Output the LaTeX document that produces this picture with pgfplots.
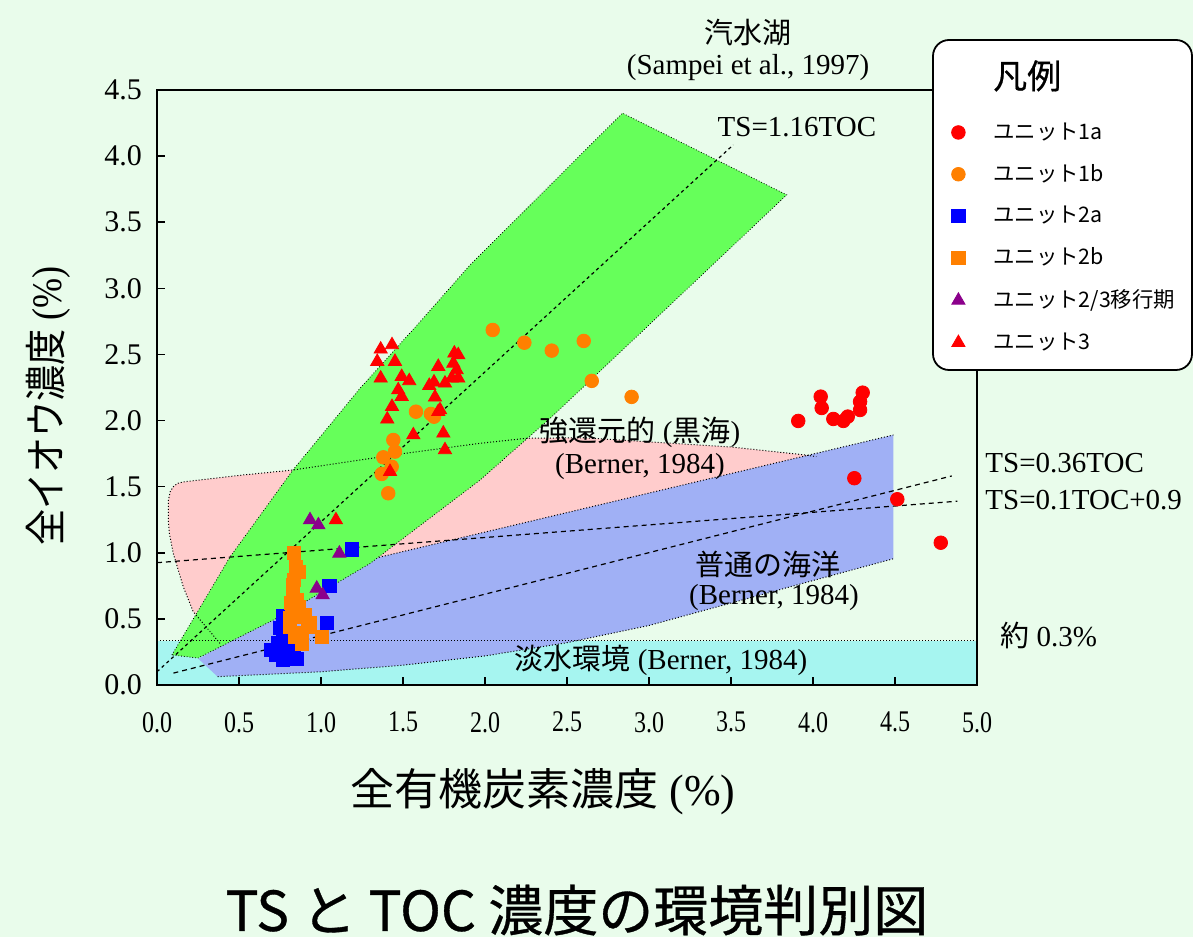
\documentclass[border=0pt]{standalone}
\usepackage{fontspec}
\setmainfont{Liberation Serif}
\newfontfamily\jp{Noto Sans CJK JP}
\newfontfamily\jpb[FakeBold=0.6]{Noto Sans CJK JP}
\usepackage{pgfplots}
\pgfplotsset{compat=1.18}
\definecolor{bgc}{RGB}{233,252,235}
\definecolor{grn}{RGB}{102,255,90}
\definecolor{pnk}{RGB}{255,204,204}
\definecolor{blu}{RGB}{160,176,245}
\definecolor{cyn}{RGB}{166,245,240}
\definecolor{orng}{RGB}{255,128,0}
\definecolor{purp}{RGB}{139,0,139}
\begin{document}
\begin{tikzpicture}[x=0.5pt,y=0.5pt]
\path[use as bounding box, fill=bgc] (0,0) rectangle (1193,937);
\begin{axis}[
 at={(78.5pt,126pt)}, anchor=origin,
 scale only axis, width=410pt, height=297.5pt,
 xmin=0,xmax=5,ymin=0,ymax=4.5,
 xtick={0,0.5,1,1.5,2,2.5,3,3.5,4,4.5,5},
 ytick={0,0.5,1,1.5,2,2.5,3,3.5,4,4.5},
 xtick pos=bottom, ytick pos=left,
 tick align=inside, major tick length=4pt,
 axis on top, clip=false,
 axis line style={line width=0.9pt},
 every tick/.style={line width=0.8pt, black},
 /pgf/number format/.cd, fixed, fixed zerofill, precision=1, assume math mode=true, /pgfplots/.cd,
 tick label style={font=\fontsize{15}{15}\selectfont},
 xticklabel style={yshift=-10pt, xscale=0.8},
 yticklabel style={xshift=-4pt},
]
% freshwater band
\addplot[fill=cyn, draw=none] coordinates {(0,0)(5,0)(5,0.333)(0,0.333)} -- cycle;
% euxinic (pink)
\addplot[fill=pnk, draw=none] coordinates {(0.384,0.315)(0.221,0.554)(0.160,0.744)(0.099,0.996)(0.075,1.15)(0.069,1.248)(0.070,1.40)(0.080,1.46)(0.098,1.498)(0.125,1.525)(0.16,1.536)(0.5,1.585)(0.829,1.626)(1.5,1.75)(1.97,1.828)(2.254,1.866)(2.6,1.87)(2.986,1.84)(3.5,1.80)(3.951,1.74)(4.02,1.727)(4.02,1.6)(2.5,1.1)(1.3,0.7)} -- cycle;
% normal marine (blue)
\addplot[fill=blu, draw=none] coordinates {(0.37,0.063)(0.253,0.197)(1.30,0.95)(4.49,1.891)(4.49,0.955)(4.0,0.79)(3.5,0.62)(3.0,0.45)(2.5,0.32)(2.0,0.22)(1.5,0.15)(1.0,0.1)} -- cycle;
\addplot[black, densely dotted, line width=0.5pt] coordinates {(1.30,0.95)(4.49,1.891)};
\addplot[black, densely dotted, line width=0.5pt] coordinates {(0.37,0.063)(1.0,0.1)(1.5,0.15)(2.0,0.22)(2.5,0.32)(3.0,0.45)(3.5,0.62)(4.0,0.79)(4.49,0.955)};
% brackish (green)
\addplot[fill=grn, draw=black, densely dotted, line width=0.4pt] coordinates {(0.091,0.227)(0.445,0.968)(0.829,1.626)(1.238,2.244)(1.614,2.761)(1.909,3.177)(2.838,4.325)(3.840,3.707)(2.40,2.02)(1.97,1.55)(1.30,0.92)(0.75,0.517)(0.25,0.204)} -- cycle;
% pink outline
\addplot[black, densely dotted, line width=0.5pt] coordinates {(0.384,0.315)(0.221,0.554)(0.160,0.744)(0.099,0.996)(0.075,1.15)(0.069,1.248)(0.070,1.40)(0.080,1.46)(0.098,1.498)(0.125,1.525)(0.16,1.536)(0.5,1.585)(0.829,1.626)(1.5,1.75)(1.97,1.828)(2.254,1.866)(2.6,1.87)(2.986,1.84)(3.5,1.80)(3.951,1.74)(4.02,1.727)};
\addplot[black, densely dotted, line width=0.5pt] coordinates {(0,0.333)(5,0.333)};
% TS lines
\addplot[black, dash pattern=on 1.6pt off 1.6pt, line width=0.6pt] coordinates {(0,0.10)(3.514,4.085)};
\addplot[black, dash pattern=on 2.5pt off 2pt, line width=0.6pt] coordinates {(0.1,0.09)(4.846,1.581)};
\addplot[black, dash pattern=on 2.5pt off 2pt, line width=0.6pt] coordinates {(0,0.925)(4.88,1.39)};
% data
\addplot[only marks, mark=*, red, mark size=3.4pt] coordinates {(3.910,1.997)(4.047,2.181)(4.053,2.095)(4.124,2.012)(4.185,1.997)(4.212,2.030)(4.287,2.080)(4.287,2.143)(4.303,2.211)(4.252,1.564)(4.514,1.405)(4.779,1.076)};
\addplot[only marks, mark=*, orng, mark size=3.4pt] coordinates {(2.047,2.685)(2.240,2.589)(2.407,2.529)(2.602,2.602)(2.651,2.300)(2.894,2.179)(1.579,2.067)(1.689,2.029)(1.67,2.05)(1.441,1.853)(1.451,1.765)(1.380,1.722)(1.431,1.651)(1.370,1.596)(1.410,1.450)};
\addplot[only marks, mark=square*, blue, mark size=3.3pt] coordinates {(1.187,1.026)(1.051,0.749)(1.035,0.471)(0.695,0.265)(0.738,0.318)(0.768,0.393)(0.793,0.477)(0.750,0.431)(0.787,0.257)(0.823,0.212)(0.854,0.197)(0.768,0.189)(0.805,0.340)(0.726,0.227)(0.835,0.303)(0.77,0.52)};
\addplot[only marks, mark=square*, orng, mark size=3.3pt] coordinates {(0.835,1.001)(0.848,0.895)(0.862,0.857)(0.835,0.794)(0.829,0.756)(0.831,0.719)(0.852,0.643)(0.815,0.618)(0.862,0.592)(0.821,0.542)(0.811,0.505)(0.872,0.517)(0.902,0.530)(0.933,0.467)(0.923,0.441)(0.811,0.441)(0.882,0.391)(0.841,0.365)(1.004,0.365)(0.882,0.315)};
\addplot[only marks, mark=triangle*, purp, mark size=3.8pt] coordinates {(0.933,1.248)(0.984,1.210)(1.112,0.996)(0.974,0.731)(1.010,0.681)};
\addplot[only marks, mark=triangle*, red, mark size=3.8pt] coordinates {(1.364,2.539)(1.433,2.572)(1.343,2.446)(1.451,2.446)(1.364,2.320)(1.492,2.332)(1.538,2.300)(1.471,2.231)(1.492,2.181)(1.433,2.105)(1.404,2.010)(1.715,2.408)(1.660,2.264)(1.689,2.290)(1.695,2.176)(1.726,2.080)(1.715,2.067)(1.756,2.282)(1.813,2.509)(1.837,2.496)(1.807,2.433)(1.827,2.383)(1.797,2.320)(1.837,2.320)(1.563,1.891)(1.746,1.904)(1.756,1.778)(1.421,1.613)(1.091,1.248)};
% annotations
\begin{scope}[every node/.style={font=\fontsize{14.5}{17}\selectfont, inner sep=0pt}]
\node at (axis cs:3.604,4.932) {\jp 汽水湖};
\node at (axis cs:3.604,4.667) {(Sampei et al., 1997)};
\node at (axis cs:3.902,4.221) {TS=1.16TOC};
\node at (axis cs:2.945,1.914) {{\jp 強還元的} ({\jp 黒海})};
\node at (axis cs:2.945,1.649) {(Berner, 1984)};
\node at (axis cs:3.726,0.908) {\jp 普通の海洋};
\node at (axis cs:3.762,0.658) {(Berner, 1984)};
\node at (axis cs:3.073,0.189) {{\jp 淡水環境} (Berner, 1984)};
\node[anchor=west] at (axis cs:5.049,1.679) {TS=0.36TOC};
\node[anchor=west] at (axis cs:5.049,1.399) {TS=0.1TOC+0.9};
\node[anchor=west] at (axis cs:5.14,0.378) {{\jp 約} 0.3\%};
\end{scope}
\node[font=\fontsize{22}{26}\selectfont] at (axis cs:2.354,-0.809) {{\jp 全有機炭素濃度} (\%)};
\node[rotate=90, font=\fontsize{21}{25}\selectfont] at (axis cs:-0.665,2.11) {\scalebox{0.86}[1]{{\jp 全イオウ濃度} (\%)}};
\node[font=\fontsize{27.5}{32}\selectfont] at (axis cs:2.561,-1.702) {\jpb TS と TOC 濃度の環境判別図};
\end{axis}
\draw[line width=0.9pt, fill=white, rounded corners=8pt] (933,897) rectangle (1192,567);
\begin{axis}[
 at={(78.5pt,126pt)}, anchor=origin,
 scale only axis, width=410pt, height=297.5pt,
 xmin=0,xmax=5,ymin=0,ymax=4.5, hide axis,
 legend cell align=left,
 legend style={at={(axis cs:4.78,4.728)}, anchor=north west, draw=none, fill=none, inner sep=0pt,
   row sep=11pt, nodes={inner sep=0pt}, font=\jp\fontsize{10.7}{12}\selectfont,
   /tikz/every odd column/.append style={column sep=14pt}},
]
\addlegendimage{empty legend}
\addlegendentry{\raisebox{4.5pt}{\fontsize{17}{17}\selectfont\jpb 凡例}}
\addlegendimage{only marks, mark=*, red, mark size=3.4pt}
\addlegendentry{ユニット1a}
\addlegendimage{only marks, mark=*, orng, mark size=3.4pt}
\addlegendentry{ユニット1b}
\addlegendimage{only marks, mark=square*, blue, mark size=3.3pt}
\addlegendentry{ユニット2a}
\addlegendimage{only marks, mark=square*, orng, mark size=3.3pt}
\addlegendentry{ユニット2b}
\addlegendimage{only marks, mark=triangle*, purp, mark size=3.8pt}
\addlegendentry{ユニット2/3移行期}
\addlegendimage{only marks, mark=triangle*, red, mark size=3.8pt}
\addlegendentry{ユニット3}
\end{axis}
\end{tikzpicture}
\end{document}
